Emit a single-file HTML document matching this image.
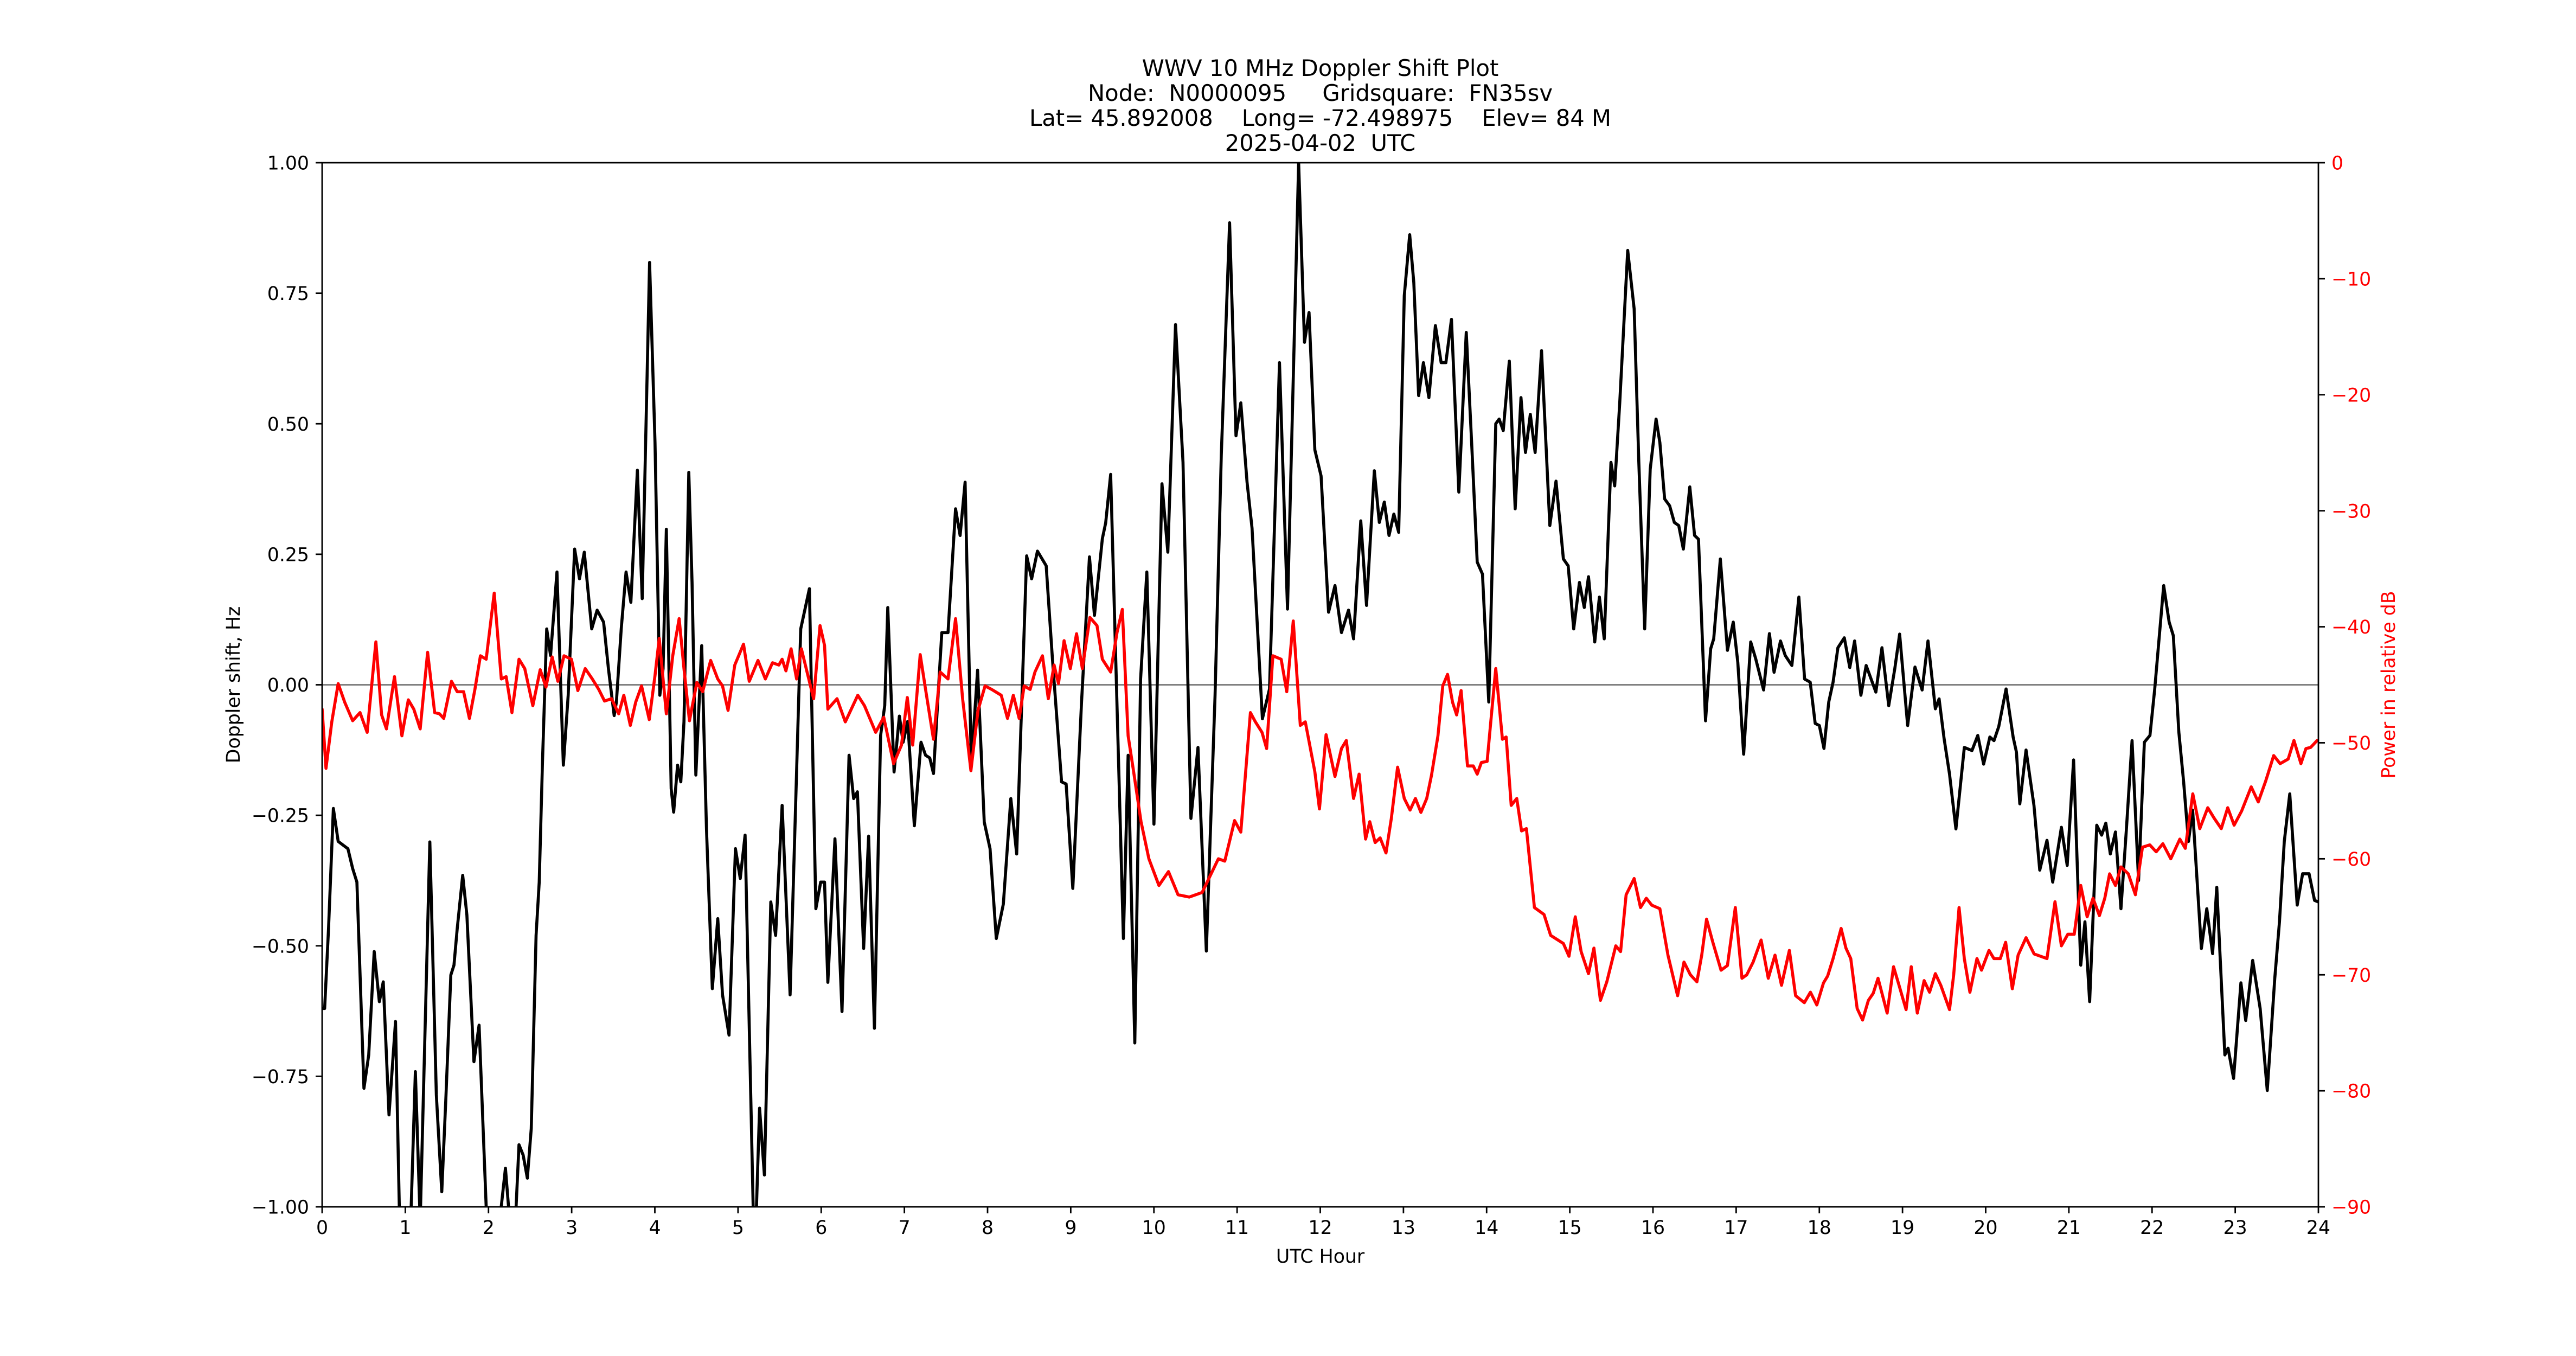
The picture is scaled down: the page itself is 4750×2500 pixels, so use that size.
<!DOCTYPE html>
<html>
<head>
<meta charset="utf-8">
<style>
  html, body { margin:0; padding:0; background:#fff; }
  svg { display:block; }
  text { font-family: "DejaVu Sans", "Liberation Sans", sans-serif; }
</style>
</head>
<body>
<svg id="chart" xmlns="http://www.w3.org/2000/svg" width="4750" height="2500" viewBox="0 0 4750 2500">
  <rect x="0" y="0" width="4750" height="2500" fill="#fff"/>
  <g font-size="41.7" text-anchor="middle" fill="#000">
    <text xml:space="preserve" style="white-space:pre" x="2434.5" y="140">WWV 10 MHz Doppler Shift Plot</text>
    <text xml:space="preserve" style="white-space:pre" x="2434.5" y="186">Node:  N0000095     Gridsquare:  FN35sv</text>
    <text xml:space="preserve" style="white-space:pre" x="2434.5" y="232">Lat= 45.892008    Long= -72.498975    Elev= 84 M</text>
    <text xml:space="preserve" style="white-space:pre" x="2434.5" y="278">2025-04-02  UTC</text>
  </g>
  <defs>
    <clipPath id="plotclip"><rect x="594" y="300" width="3681" height="1925"/></clipPath>
  </defs>
  <g id="gridzero"></g>
  <g id="series" clip-path="url(#plotclip)"></g>
  <g id="axes"></g>
  <text x="2434.5" y="2328" font-size="34.7" text-anchor="middle">UTC Hour</text>
  <text transform="translate(442,1262.5) rotate(-90)" font-size="34.7" text-anchor="middle">Doppler shift, Hz</text>
  <text transform="translate(4416,1262.5) rotate(-90)" font-size="34.7" text-anchor="middle" fill="#ff0000">Power in relative dB</text>
</svg>
<script>
const xTicks = [0,1,2,3,4,5,6,7,8,9,10,11,12,13,14,15,16,17,18,19,20,21,22,23,24];
const yTicks = [-1.0,-0.75,-0.5,-0.25,0,0.25,0.5,0.75,1.0];
const yTickLabels = ["\u22121.00","\u22120.75","\u22120.50","\u22120.25","0.00","0.25","0.50","0.75","1.00"];
const pTicks = [0,-10,-20,-30,-40,-50,-60,-70,-80,-90];
const pTickLabels = ["0","\u221210","\u221220","\u221230","\u221240","\u221250","\u221260","\u221270","\u221280","\u221290"];

const dopplerHours = [0,0.03,0.077,0.135,0.193,0.31,0.367,0.418,0.503,0.56,0.626,0.688,0.735,0.804,0.882,0.928,0.967,1.063,1.121,1.179,1.295,1.373,1.438,1.489,1.547,1.585,1.624,1.69,1.74,1.825,1.887,1.972,2.011,2.107,2.204,2.262,2.32,2.367,2.417,2.467,2.514,2.572,2.61,2.649,2.70,2.746,2.823,2.90,2.958,3.036,3.094,3.152,3.241,3.306,3.384,3.442,3.511,3.538,3.596,3.654,3.712,3.79,3.848,3.937,4.002,4.06,4.099,4.138,4.196,4.226,4.273,4.312,4.35,4.408,4.447,4.493,4.563,4.621,4.691,4.756,4.814,4.892,4.969,5.027,5.085,5.182,5.209,5.259,5.317,5.394,5.452,5.53,5.626,5.684,5.754,5.858,5.936,5.994,
6.04,6.08,6.165,6.25,6.335,6.39,6.435,6.51,6.57,6.64,6.714,6.764,6.80,6.876,6.94,6.985,7.04,7.12,7.20,7.255,7.305,7.35,7.45,7.525,7.615,7.67,7.73,7.805,7.88,7.96,8.03,8.105,8.19,8.28,8.35,8.47,8.53,8.60,8.705,8.78,8.89,8.945,9.025,9.13,9.225,9.285,9.38,9.42,9.48,9.633,9.69,9.77,9.84,9.915,10.0,10.097,10.167,10.26,10.35,10.445,10.53,10.63,10.735,10.81,10.91,10.987,11.045,11.12,11.18,11.304,11.39,11.51,11.606,11.74,11.81,11.865,11.935,12.01,
12.10,12.177,12.255,12.34,12.40,12.487,12.556,12.65,12.71,12.77,12.827,12.885,12.943,13.01,13.075,13.125,13.183,13.24,13.306,13.384,13.453,13.51,13.577,13.666,13.755,13.82,13.887,13.95,14.026,14.11,14.15,14.20,14.273,14.343,14.413,14.467,14.525,14.583,14.66,14.76,14.834,14.923,14.98,15.047,15.116,15.174,15.225,15.30,15.356,15.414,15.495,15.54,15.60,15.696,15.774,15.83,15.90,15.967,16.037,16.083,16.14,16.20,16.257,16.31,16.365,16.443,16.50,16.547,16.632,16.694,16.73,16.81,16.895,16.965,17.02,17.09,17.175,17.235,17.33,17.40,17.456,17.533,17.59,17.67,17.754,17.823,17.89,17.95,18.0,18.056,18.113,
18.165,18.223,18.30,18.366,18.424,18.50,18.563,18.68,18.753,18.834,18.907,18.965,19.062,19.15,19.236,19.306,19.395,19.44,19.50,19.565,19.642,19.743,19.835,19.905,19.975,20.05,20.10,20.157,20.245,20.33,20.37,20.41,20.485,20.58,20.65,20.737,20.806,20.91,20.98,21.057,21.143,21.193,21.25,21.335,21.394,21.444,21.498,21.56,21.626,21.692,21.76,21.838,21.908,21.975,22.032,22.14,22.206,22.256,22.322,22.38,22.438,22.488,22.593,22.658,22.728,22.778,22.875,22.914,22.98,23.068,23.126,23.21,23.30,23.385,23.475,23.532,23.59,23.656,23.745,23.81,23.888,23.954,24.0];
const dopplerValues = [-0.62,-0.62,-0.467,-0.237,-0.30,-0.314,-0.352,-0.378,-0.773,-0.709,-0.511,-0.607,-0.569,-0.824,-0.645,-1.0,-1.067,-1.04,-0.741,-1.028,-0.301,-0.786,-0.971,-0.786,-0.556,-0.537,-0.467,-0.365,-0.441,-0.722,-0.652,-1.0,-1.105,-1.067,-0.926,-1.041,-1.041,-0.881,-0.901,-0.945,-0.85,-0.48,-0.378,-0.148,0.107,0.056,0.216,-0.154,-0.02,0.26,0.203,0.254,0.107,0.143,0.12,0.031,-0.059,-0.033,0.107,0.216,0.158,0.411,0.165,0.809,0.464,-0.02,0.031,0.298,-0.199,-0.244,-0.154,-0.186,-0.071,0.407,0.196,-0.173,0.075,-0.276,-0.582,-0.448,-0.594,-0.671,-0.314,-0.371,-0.288,-1.0,-1.066,-0.811,-0.939,-0.416,-0.48,-0.231,-0.594,-0.276,0.107,0.184,-0.429,-0.378,
-0.378,-0.57,-0.295,-0.626,-0.135,-0.218,-0.205,-0.505,-0.29,-0.658,-0.097,-0.04,0.148,-0.167,-0.06,-0.11,-0.07,-0.27,-0.11,-0.135,-0.14,-0.17,0.10,0.10,0.337,0.286,0.388,-0.154,0.028,-0.263,-0.314,-0.486,-0.42,-0.218,-0.324,0.247,0.203,0.256,0.228,0.05,-0.186,-0.19,-0.39,-0.033,0.245,0.133,0.28,0.31,0.403,-0.486,-0.135,-0.686,0.011,0.216,-0.267,0.385,0.254,0.69,0.426,-0.256,-0.12,-0.51,-0.02,0.44,0.885,0.477,0.54,0.388,0.30,-0.065,-0.008,0.617,0.145,1.0,0.656,0.713,0.45,0.40,
0.139,0.19,0.10,0.143,0.088,0.314,0.152,0.41,0.311,0.35,0.286,0.327,0.292,0.745,0.862,0.77,0.554,0.617,0.55,0.688,0.617,0.617,0.70,0.369,0.675,0.464,0.235,0.212,-0.033,0.50,0.509,0.487,0.62,0.337,0.55,0.445,0.518,0.445,0.64,0.305,0.39,0.241,0.228,0.107,0.196,0.148,0.207,0.082,0.168,0.088,0.426,0.381,0.54,0.832,0.72,0.426,0.107,0.413,0.509,0.464,0.356,0.343,0.311,0.305,0.26,0.379,0.286,0.279,-0.069,0.069,0.088,0.241,0.066,0.12,0.043,-0.133,0.082,0.05,-0.01,0.098,0.024,0.084,0.056,0.037,0.168,0.011,0.005,-0.074,-0.078,-0.122,-0.033,
0.005,0.071,0.09,0.033,0.084,-0.02,0.037,-0.014,0.071,-0.04,0.031,0.097,-0.078,0.034,-0.01,0.084,-0.046,-0.027,-0.103,-0.171,-0.276,-0.12,-0.126,-0.097,-0.152,-0.10,-0.107,-0.08,-0.008,-0.10,-0.129,-0.228,-0.125,-0.231,-0.355,-0.298,-0.378,-0.273,-0.346,-0.144,-0.537,-0.454,-0.607,-0.269,-0.288,-0.265,-0.324,-0.282,-0.429,-0.276,-0.107,-0.375,-0.11,-0.097,-0.008,0.19,0.12,0.094,-0.09,-0.186,-0.30,-0.24,-0.505,-0.429,-0.515,-0.388,-0.709,-0.696,-0.754,-0.571,-0.643,-0.528,-0.62,-0.777,-0.563,-0.454,-0.30,-0.209,-0.422,-0.362,-0.362,-0.413,-0.416];

const powerHours = [0,0.046,0.116,0.193,0.271,0.367,0.456,0.541,0.599,0.646,0.715,0.773,0.87,0.959,1.036,1.102,1.179,1.268,1.353,1.411,1.462,1.555,1.624,1.701,1.771,1.837,1.903,1.972,2.069,2.154,2.212,2.282,2.367,2.436,2.533,2.622,2.691,2.765,2.834,2.908,2.997,3.074,3.163,3.248,3.326,3.395,3.48,3.565,3.627,3.705,3.77,3.84,3.933,4.002,4.053,4.138,4.215,4.292,4.35,4.416,4.505,4.575,4.671,4.756,4.814,4.88,4.961,5.066,5.135,5.24,5.329,5.414,5.491,5.53,5.576,5.638,5.704,5.762,5.82,5.909,5.986,
6.04,6.08,6.19,6.29,6.44,6.52,6.655,6.752,6.87,6.965,7.035,7.10,7.19,7.255,7.35,7.43,7.525,7.615,7.70,7.80,7.885,7.97,8.05,8.164,8.24,8.31,8.38,8.44,8.512,8.57,8.66,8.73,8.80,8.853,8.92,8.995,9.07,9.14,9.23,9.316,9.38,9.48,9.556,9.62,9.69,9.75,9.845,9.94,10.06,10.175,10.29,10.425,10.58,10.775,10.852,10.97,11.045,11.16,11.22,11.30,11.355,11.43,11.53,11.597,11.675,11.76,11.82,11.935,11.99,
12.07,12.177,12.255,12.313,12.40,12.467,12.545,12.595,12.66,12.72,12.79,12.855,12.93,13.01,13.08,13.144,13.21,13.28,13.337,13.415,13.473,13.53,13.59,13.64,13.693,13.77,13.84,13.887,13.937,14.006,14.05,14.11,14.19,14.235,14.296,14.362,14.42,14.478,14.575,14.69,14.77,14.923,14.99,15.066,15.136,15.225,15.29,15.368,15.445,15.553,15.611,15.677,15.774,15.85,15.92,15.986,16.083,16.18,16.296,16.373,16.45,16.528,16.586,16.644,16.72,16.818,16.895,16.99,17.07,17.127,17.204,17.30,17.386,17.467,17.545,17.64,17.715,17.82,17.893,17.97,18.05,18.10,
18.165,18.262,18.32,18.378,18.455,18.52,18.59,18.648,18.706,18.815,18.892,18.958,19.043,19.105,19.178,19.26,19.325,19.395,19.46,19.565,19.615,19.68,19.743,19.81,19.895,19.95,20.04,20.099,20.176,20.24,20.32,20.39,20.485,20.582,20.737,20.833,20.91,20.988,21.065,21.143,21.22,21.29,21.367,21.432,21.49,21.56,21.626,21.715,21.80,21.885,21.973,22.05,22.13,22.225,22.334,22.40,22.49,22.574,22.67,22.747,22.832,22.91,22.987,23.076,23.192,23.277,23.366,23.463,23.54,23.637,23.706,23.79,23.85,23.907,23.985];
const powerValues = [-47.1,-52.2,-48.2,-44.9,-46.5,-48.1,-47.4,-49.1,-44.8,-41.3,-47.6,-48.8,-44.3,-49.4,-46.3,-47.1,-48.8,-42.2,-47.4,-47.5,-47.9,-44.7,-45.6,-45.6,-47.9,-45.4,-42.5,-42.8,-37.1,-44.5,-44.3,-47.4,-42.8,-43.6,-46.8,-43.7,-45.2,-42.6,-44.7,-42.5,-42.8,-45.5,-43.6,-44.5,-45.4,-46.4,-46.2,-47.5,-45.9,-48.5,-46.5,-45.1,-48.0,-44.2,-41.0,-47.5,-42.5,-39.3,-43.6,-48.1,-44.8,-45.6,-42.9,-44.5,-45.1,-47.2,-43.3,-41.5,-44.7,-42.9,-44.5,-43.1,-43.3,-42.8,-43.8,-41.9,-44.5,-41.9,-43.6,-46.2,-39.9,
-41.6,-47.1,-46.2,-48.2,-45.9,-46.8,-49.1,-47.8,-51.8,-50.2,-46.1,-50.2,-42.4,-45.4,-49.7,-43.9,-44.5,-39.3,-46.2,-52.4,-47.2,-45.1,-45.4,-45.9,-47.9,-45.9,-47.9,-45.1,-45.4,-43.9,-42.5,-46.2,-43.3,-44.9,-41.2,-43.6,-40.6,-43.6,-39.2,-39.9,-42.8,-43.9,-40.5,-38.5,-49.4,-52.2,-56.8,-60,-62.3,-61.1,-63.1,-63.3,-62.9,-60,-60.2,-56.7,-57.7,-47.4,-48.2,-49.1,-50.5,-42.5,-42.8,-45.6,-39.5,-48.5,-48.2,-52.5,-55.7,
-49.3,-52.9,-50.5,-49.8,-54.8,-52.7,-58.3,-56.8,-58.6,-58.2,-59.5,-56.5,-52.1,-54.8,-55.8,-54.8,-56,-54.8,-52.8,-49.4,-45.1,-44.1,-46.5,-47.6,-45.5,-52,-52,-52.7,-51.7,-51.6,-48.2,-43.6,-49.7,-49.5,-55.4,-54.8,-57.6,-57.4,-64.2,-64.8,-66.6,-67.3,-68.4,-65,-68,-69.9,-67.7,-72.2,-70.6,-67.5,-68,-63.1,-61.7,-64.2,-63.4,-64,-64.3,-68.3,-71.8,-68.9,-70,-70.6,-68.3,-65.2,-67.2,-69.6,-69.2,-64.2,-70.3,-70,-68.9,-67,-70.3,-68.3,-70.9,-67.9,-71.8,-72.4,-71.5,-72.6,-70.7,-70.1,
-68.6,-66,-67.7,-68.6,-72.9,-73.9,-72.2,-71.6,-70.3,-73.3,-69.3,-70.9,-73,-69.3,-73.3,-70.5,-71.5,-69.9,-70.9,-73,-70,-64.2,-68.6,-71.5,-68.6,-69.6,-67.9,-68.6,-68.6,-67.2,-71.2,-68.3,-66.8,-68.2,-68.6,-63.7,-67.5,-66.5,-66.5,-62.3,-65,-63.4,-64.9,-63.4,-61.3,-62.3,-60.7,-61.3,-63.1,-59,-58.8,-59.4,-58.7,-60,-58.3,-59.1,-54.4,-57.4,-55.6,-56.5,-57.4,-55.6,-57.1,-55.9,-53.8,-55.1,-53.3,-51.1,-51.8,-51.4,-49.8,-51.8,-50.5,-50.4,-49.8];

const NS = "http://www.w3.org/2000/svg";
const L = 594, R = 4275, T = 300, B = 2225;
function xScale(h) { return L + (h / 24) * (R - L); }
function yLeft(v) { return T + (1 - v) / 2 * (B - T); }
function yRight(db) { return T + (-db) / 90 * (B - T); }
function mk(tag, attrs) {
  const e = document.createElementNS(NS, tag);
  for (const k in attrs) e.setAttribute(k, attrs[k]);
  return e;
}

const gz = document.getElementById('gridzero');
const zl = mk('line', {x1: L, x2: R, y1: yLeft(0), y2: yLeft(0), stroke: '#808080', 'stroke-width': 3});


gz.appendChild(zl);

const gs = document.getElementById('series');
function pathFrom(xs, ys, fy) {
  let d = '';
  for (let i = 0; i < xs.length; i++) {
    d += (i ? 'L' : 'M') + xScale(xs[i]).toFixed(1) + ',' + fy(ys[i]).toFixed(1);
  }
  return d;
}
const dl = mk('path', {d: pathFrom(dopplerHours, dopplerValues, yLeft), fill: 'none', stroke: '#000', 'stroke-width': 5.6, 'stroke-linejoin': 'round', 'stroke-linecap': 'round'});


gs.appendChild(dl);
const pl = mk('path', {d: pathFrom(powerHours, powerValues, yRight), fill: 'none', stroke: '#ff0000', 'stroke-width': 5.6, 'stroke-linejoin': 'round', 'stroke-linecap': 'round'});


gs.appendChild(pl);

const ga = document.getElementById('axes');
const frame = mk('rect', {x: L, y: T, width: R - L, height: B - T, fill: 'none', stroke: '#000', 'stroke-width': 2.8});


ga.appendChild(frame);

xTicks.forEach(function(t) {
  const x = xScale(t);
  const tk = mk('line', {x1: x, x2: x, y1: B, y2: B + 12, stroke: '#000', 'stroke-width': 2.8});
  
  
  ga.appendChild(tk);
  const tx = mk('text', {x: x, y: 2275, 'font-size': 34.7, 'text-anchor': 'middle'});
  tx.textContent = String(t);
  
  
  ga.appendChild(tx);
});
yTicks.forEach(function(t, i) {
  const y = yLeft(t);
  const tk = mk('line', {x1: L - 12, x2: L, y1: y, y2: y, stroke: '#000', 'stroke-width': 2.8});
  
  
  ga.appendChild(tk);
  const tx = mk('text', {x: 570, y: y + 12.6, 'font-size': 34.7, 'text-anchor': 'end'});
  tx.textContent = yTickLabels[i];
  
  
  ga.appendChild(tx);
});
pTicks.forEach(function(t, i) {
  const y = yRight(t);
  const tk = mk('line', {x1: R, x2: R + 12, y1: y, y2: y, stroke: '#000', 'stroke-width': 2.8});
  
  
  ga.appendChild(tk);
  const tx = mk('text', {x: 4299, y: y + 12.6, 'font-size': 34.7, 'text-anchor': 'start', fill: '#ff0000'});
  tx.textContent = pTickLabels[i];
  
  
  ga.appendChild(tx);
});
</script>
</body>
</html>
